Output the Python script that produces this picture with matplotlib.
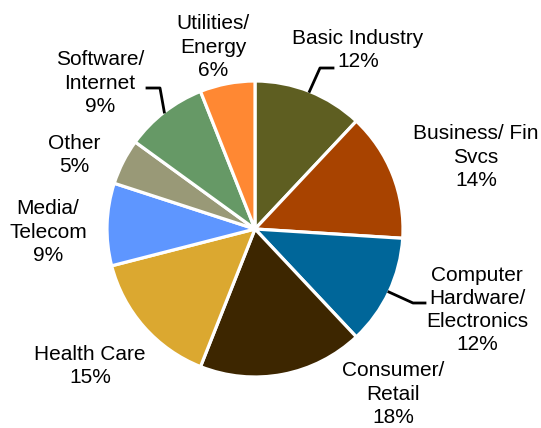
import numpy as np
import matplotlib
matplotlib.use('Agg')
import matplotlib.pyplot as plt

# Datos del sector
sectores = ['Basic Industry', 'Business/ Fin\nSvcs', 'Computer\nHardware/\nElectronics',
            'Consumer/\nRetail', 'Health Care', 'Media/\nTelecom', 'Other',
            'Software/\nInternet', 'Utilities/\nEnergy']
porcentajes = [12, 14, 12, 18, 15, 9, 5, 9, 6]
colores = ['#5E5E21', '#A84300', '#006699', '#3D2600', '#DBA830',
           '#5E96FF', '#999977', '#669966', '#FF8833']

# posiciones de etiquetas (pixeles, origen arriba-izquierda)
pos_etiquetas = [(358, 50), (476, 157), (477, 310), (393, 394), (90, 366),
                 (48, 232), (74, 155), (100, 83), (213, 47)]
# codos de las lineas guia: (indice, punto codo, punto final)
guias = {0: ((320, 68), (333, 68)),
         2: ((413, 303), (425, 303)),
         7: ((160, 88), (147, 88))}

W, H = 541, 428
cx, cy, r = 255, 229, 148

fig = plt.figure(figsize=(W / 100, H / 100), dpi=100)
ax = fig.add_axes([0, 0, 1, 1])

ax.pie(porcentajes, colors=colores, startangle=90, counterclock=False,
       center=(cx, H - cy), radius=r,
       wedgeprops={'edgecolor': 'white', 'linewidth': 2.3})
ax.set_xlim(0, W)
ax.set_ylim(0, H)
ax.set_aspect('auto')
ax.axis('off')

for i, (nombre, pct) in enumerate(zip(sectores, porcentajes)):
    x, y = pos_etiquetas[i]
    ax.text(x, H - y, f'{nombre}\n{pct}%', ha='center', va='center',
            fontsize=15, linespacing=1.28, family=['Liberation Sans', 'DejaVu Sans'])

# lineas guia desde el borde de la porcion
acum = np.cumsum([0] + porcentajes)
for i, (codo, fin) in guias.items():
    ang = np.deg2rad((acum[i] + porcentajes[i] / 2) / 100 * 360)
    x0 = cx + r * np.sin(ang)
    y0 = cy - r * np.cos(ang)
    xs = [x0, codo[0], fin[0]]
    ys = [H - y0, H - codo[1], H - fin[1]]
    ax.plot(xs, ys, color='black', linewidth=2)

fig.savefig('out.png', dpi=100)
